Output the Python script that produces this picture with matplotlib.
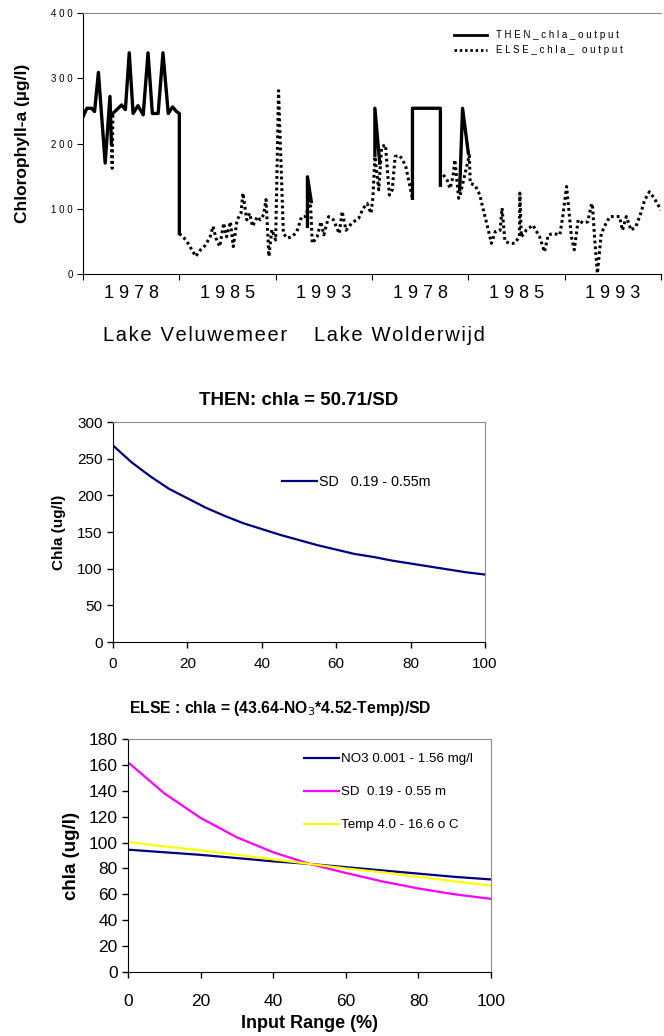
import numpy as np
import matplotlib.pyplot as plt

plt.rcParams['font.family'] = ['Liberation Sans', 'DejaVu Sans']

nan = np.nan

# top chart: categories / labels
year_labels = ['1978', '1985', '1993', '1978', '1985', '1993']
lake_labels = ['Lake Veluwemeer', 'Lake Wolderwijd']
top_yticks = [0, 100, 200, 300, 400]

# THEN_chla_output (solid), x in label-interval units
then_x = [0, 0.04, 0.09, 0.12, 0.16, 0.23, 0.28, 0.295, nan,
          0.31, 0.365, 0.40, 0.44, 0.48, 0.52, 0.57, 0.625, 0.675, 0.72, 0.78,
          0.83, 0.885, 0.93, 0.97, 1.0, 1.0, nan,
          2.33, 2.33, 2.37, nan,
          3.03, 3.03, 3.08, nan,
          3.42, 3.42, 3.71, 3.71, nan,
          3.91, 3.94, 4.0]
then_y = [241, 254, 254, 249, 309, 170, 272, 200, nan,
          246, 254, 259, 252, 339, 246, 258, 244, 339, 246, 246,
          339, 246, 256, 249, 246, 62, nan,
          73, 149, 111, nan,
          182, 254, 170, nan,
          116, 254, 254, 136, nan,
          129, 254, 185]

# ELSE_chla_ output (dotted)
else_x = [0.295, 0.303, 0.31, nan,
          1.0, 1.07, 1.13, 1.17, 1.22, 1.27, 1.32, 1.35, 1.38, 1.42, 1.46, 1.49,
          1.53, 1.56, 1.60, 1.64, 1.66, 1.70, 1.73, 1.76, 1.81, 1.84, 1.875, 1.90,
          1.93, 1.96, 2.0, 2.03, 2.08, 2.12, 2.17, 2.22, 2.27, 2.31, 2.36, 2.38,
          2.43, 2.47, 2.5, 2.55, 2.6, 2.66, 2.69, 2.73, 2.79, 2.86, 2.91, 2.95,
          2.99, 3.01, 3.03, 3.07, 3.10, 3.14, 3.18, 3.21, 3.24, 3.28, 3.31, 3.35,
          3.38, 3.42, nan,
          3.74, 3.78, 3.81, 3.84, 3.86, 3.90, 3.91, 4.01, 4.02, 4.07, 4.12, 4.14,
          4.19, 4.24, 4.28, 4.33, 4.35, 4.38, 4.43, 4.48, 4.53, 4.535, 4.55, 4.60,
          4.67, 4.74, 4.79, 4.83, 4.88, 4.95, 4.98, 5.02, 5.07, 5.10, 5.14, 5.19,
          5.24, 5.28, 5.29, 5.31, 5.34, 5.38, 5.43, 5.47, 5.52, 5.57, 5.60, 5.64,
          5.69, 5.74, 5.79, 5.83, 5.88, 5.93, 6.0]
else_y = [200, 162, 246, nan,
          62, 52, 37, 27, 37, 44, 57, 73, 55, 42, 78, 57,
          80, 42, 83, 93, 124, 83, 93, 73, 88, 83, 91, 114,
          27, 68, 52, 281, 62, 55, 57, 65, 88, 88, 113, 47,
          57, 80, 60, 88, 83, 62, 96, 67, 78, 85, 101, 108,
          93, 118, 180, 129, 195, 198, 121, 129, 180, 182, 177, 165,
          144, 116, nan,
          152, 144, 131, 149, 175, 116, 118, 182, 139, 136, 121, 108,
          78, 47, 65, 67, 101, 50, 47, 47, 57, 124, 57, 67,
          75, 57, 34, 60, 62, 60, 88, 134, 57, 37, 83, 78,
          80, 108, 103, 57, 1, 62, 78, 88, 88, 88, 67, 88,
          67, 73, 93, 113, 126, 116, 98]

# middle chart: THEN sensitivity
input_pct = [0, 5, 10, 15, 20, 25, 30, 35, 40, 45, 50, 55, 60, 65, 70, 75, 80, 85, 90, 95, 100]
then_sd = [268, 245, 226, 209, 196, 183, 172, 162, 154, 146, 139, 132, 126, 120, 116, 111, 107, 103, 99, 95, 92]

# bottom chart: ELSE sensitivity
input_pct2 = [0, 10, 20, 30, 40, 50, 60, 70, 80, 90, 100]
else_no3 = [94.5, 92.5, 90.5, 88, 85.5, 83.5, 81, 78.5, 76, 73.5, 71.5]
else_sd = [162, 138, 119, 104, 92.5, 83.5, 76.5, 70, 64.5, 60, 56.5]
else_temp = [100.5, 97, 94, 90.5, 87, 83.5, 80, 77, 73.5, 70, 66.7]

W, H = 664, 1036
fig = plt.figure(figsize=(W / 100, H / 100), dpi=100)


def ax_px(l, t, r, b):
    return fig.add_axes([l / W, 1 - b / H, (r - l) / W, (b - t) / H])


def spaced(s, sep=' '):
    return sep.join(s)


def frame(ax):
    ax.spines['left'].set_color('black')
    ax.spines['bottom'].set_color('black')
    ax.spines['top'].set_color('#8c8c8c')
    ax.spines['right'].set_color('#8c8c8c')
    ax.tick_params(direction='out', length=4, width=1, top=False, right=False)


# ---------- top chart ----------
ax1 = ax_px(83, 13, 661, 274)
ax1.plot(then_x, then_y, color='black', lw=2.4, solid_joinstyle='round')
ax1.plot(else_x, else_y, color='black', lw=2.2, linestyle=(0, (0.9, 1.0)))
ax1.set_xlim(0, 6)
ax1.set_ylim(0, 400)
ax1.spines['right'].set_visible(False)
ax1.spines['top'].set_color('#8c8c8c')
ax1.set_xticks(range(7))
ax1.set_xticklabels([])
ax1.set_xticks(np.arange(0.5, 6, 1), minor=True)
ax1.set_xticklabels([spaced(s) for s in year_labels], minor=True, fontsize=13)
ax1.tick_params(axis='x', which='minor', length=0, pad=8)
ax1.tick_params(axis='x', which='major', direction='out', length=4)
ax1.set_yticks(top_yticks)
ax1.set_yticklabels([spaced(str(v)) for v in top_yticks], fontsize=7)
ax1.tick_params(axis='y', direction='out', length=4)
ax1.set_ylabel('Chlorophyll-a (µg/l)', fontsize=12.5, fontweight='bold', labelpad=15)
ax1.plot([], [], color='black', lw=2.0, label=spaced('THEN_chla_output'))
ax1.plot([], [], color='black', lw=2.0, linestyle=(0, (0.9, 1.0)), label=spaced('ELSE_chla_ output'))
ax1.legend(loc='upper left', bbox_to_anchor=(0.635, 0.948), frameon=False,
           prop={'size': 7}, handlelength=3.4, handletextpad=0.9, labelspacing=0.5,
           borderaxespad=0)

fig.text(195 / W, 1 - 335 / H, spaced(lake_labels[0], '\u200a'), fontsize=14.5,
         ha='center', va='center')
fig.text(399 / W, 1 - 335 / H, spaced(lake_labels[1], '\u200a'), fontsize=14.5,
         ha='center', va='center')

# ---------- middle chart ----------
ax2 = ax_px(113, 422, 485, 642)
ax2.plot(input_pct, then_sd, color='#000080', lw=1.6, label='SD   0.19 - 0.55m')
ax2.set_xlim(0, 100)
ax2.set_ylim(0, 300)
ax2.set_xticks(range(0, 101, 20))
ax2.set_yticks(range(0, 301, 50))
frame(ax2)
ax2.tick_params(labelsize=11)
ax2.tick_params(axis='x', pad=7)
ax2.set_ylabel('Chla (ug/l)', fontsize=11, fontweight='bold', labelpad=8)
ax2.set_title('THEN: chla = 50.71/SD', fontsize=13.5, fontweight='bold', pad=12)
ax2.legend(loc='center left', bbox_to_anchor=(0.44, 0.725), frameon=False, fontsize=10.3,
           handlelength=2.4, handletextpad=0.15, borderaxespad=0)

# ---------- bottom chart ----------
ax3 = ax_px(128, 739, 491, 972)
ax3.plot(input_pct2, else_no3, color='#000080', lw=1.6, label='NO3 0.001 - 1.56 mg/l')
ax3.plot(input_pct2, else_sd, color='#ff00ff', lw=1.6, label='SD  0.19 - 0.55 m')
ax3.plot(input_pct2, else_temp, color='#ffff00', lw=1.6, label='Temp 4.0 - 16.6 o C')
ax3.set_xlim(0, 100)
ax3.set_ylim(0, 180)
ax3.set_xticks(range(0, 101, 20))
ax3.set_yticks(range(0, 181, 20))
frame(ax3)
ax3.tick_params(labelsize=12.5)
ax3.tick_params(axis='x', pad=12)
ax3.set_ylabel('chla (ug/l)', fontsize=13.5, fontweight='bold', labelpad=6)
ax3.set_xlabel('Input Range (%)', fontsize=13, fontweight='bold')
ax3.xaxis.set_label_coords(0.5, -(1024 - 972) / (972 - 739), transform=ax3.transAxes)
ax3.xaxis.label.set_va('center')
fig.text(280 / W, 1 - 708 / H, 'ELSE : chla = (43.64-NO$_3$*4.52-Temp)/SD', fontsize=11.3,
         fontweight='bold', ha='center', va='center')
ax3.legend(loc='upper left', bbox_to_anchor=(0.47, 0.963), frameon=False, fontsize=9.6,
           handlelength=2.6, handletextpad=0.2, labelspacing=1.55, borderaxespad=0)

fig.savefig('out.png', dpi=100)
